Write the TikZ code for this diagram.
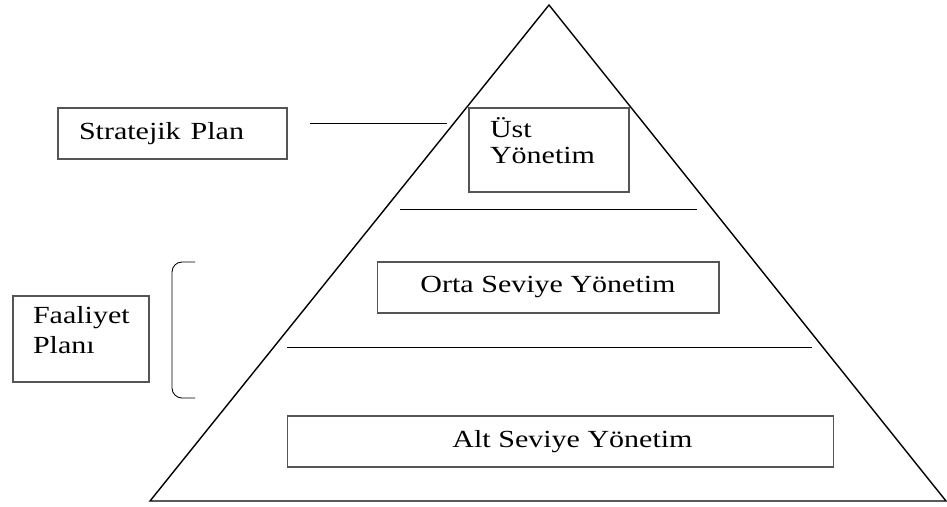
\documentclass[tikz,border=0pt]{standalone}
\usepackage{fontspec}
\setmainfont{Liberation Serif}
\usepackage{graphicx}
\definecolor{boxgr}{RGB}{85, 85, 85}
\newcommand{\wide}[1]{\scalebox{1.22}[1]{#1}}
\usetikzlibrary{positioning}

\begin{document}
\begin{tikzpicture}[-, x=0.02cm, y=-0.02cm, line width=0.5pt, inner sep=0pt,
  level/.style={draw=boxgr, line width=0.6pt, font=\fontsize{14}{15}\selectfont}]

\useasboundingbox (0,0) rectangle (947,507);



  \coordinate (T)  at (549,5);
  \coordinate (BL) at (150,501);
  \coordinate (BR) at (946,501);
  \draw[line width=0.8pt] (T) -- (BL) -- (BR) -- cycle;


  \node[level, minimum width=4.58cm, minimum height=1.02cm, text width=3.74cm, align=left]  (S)  at (172.5,133.5) {\wide{Stratejik Plan}};
  \node[level, minimum width=3.2cm, minimum height=1.68cm, text width=2.36cm, align=left]   (U)  at (549,150)     {\wide{Üst}\\\wide{Yönetim}\\[-4pt]\mbox{}};
  \node[level, minimum width=6.84cm, minimum height=1.02cm]                                  (O)  at (548,287.5)   {\wide{Orta Seviye Yönetim}};
  \node[level, minimum width=10.94cm, minimum height=1.02cm]                                 (A)  at (560.5,441.5) {\hspace*{0.48cm}\wide{Alt Seviye Yönetim}};
  \node[level, minimum width=2.72cm, minimum height=1.72cm, text width=1.92cm, align=left]   (F)  at (81,339)      {\wide{Faaliyet}\\[2pt]\wide{Planı}\\[-5pt]\mbox{}};


  \coordinate (S_1) at (310,123);
  \coordinate (S_2) at (447,123);
  \coordinate (M_1) at (400,209);
  \coordinate (M_2) at (697,209);
  \coordinate (M_3) at (287,347);
  \coordinate (M_4) at (812,347);
  \coordinate (B_1) at (195,262);
  \coordinate (B_2) at (195,398);

  \path (S_1) edge (S_2)
        (M_1) edge (M_2)
        (M_3) edge (M_4)
        ;
  \draw[rounded corners=0.2cm] (B_1) -- ++(-23,0) -- ++(0,136) -- (B_2);



\end{tikzpicture}
\end{document}
